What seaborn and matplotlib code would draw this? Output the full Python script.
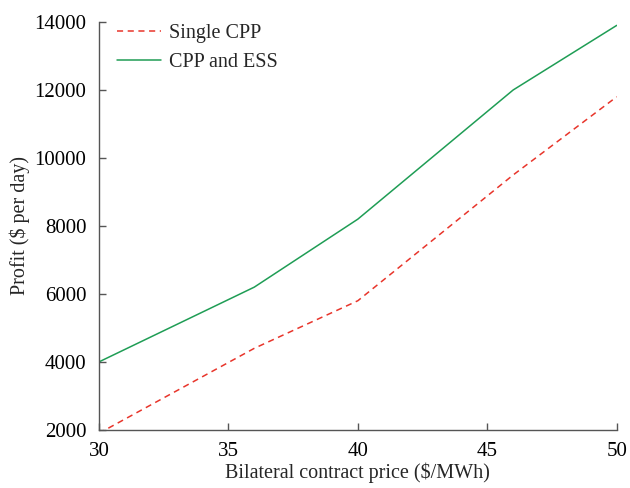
import matplotlib
matplotlib.use("Agg")
import matplotlib.pyplot as plt
import seaborn as sns
import pandas as pd

price = [30, 36, 40, 46, 50]
single_cpp = [1900, 4400, 5800, 9500, 11800]
cpp_ess = [4000, 6200, 8200, 12000, 13900]
xticks = [30, 35, 40, 45, 50]
yticks = [2000, 4000, 6000, 8000, 10000, 12000, 14000]

sns.set_style("ticks")
plt.rcParams['font.family'] = ['Liberation Serif', 'DejaVu Serif']

df = pd.concat([
    pd.DataFrame({"price": price, "profit": single_cpp, "series": "Single CPP"}),
    pd.DataFrame({"price": price, "profit": cpp_ess, "series": "CPP and ESS"}),
])

fig = plt.figure(figsize=(6.3, 4.88), dpi=100)
ax = fig.add_axes([0.157, 0.119, 0.822, 0.836])
sns.lineplot(data=df, x="price", y="profit", hue="series", style="series",
             palette={"Single CPP": "#e8352b", "CPP and ESS": "#1f9d55"},
             dashes={"Single CPP": (4, 3), "CPP and ESS": ""},
             linewidth=1.1, ax=ax)

ax.set_xlim(30, 50)
ax.set_ylim(2000, 14000)
ax.set_xticks(xticks)
ax.set_yticks(yticks)
ax.set_xlabel("Bilateral contract price (\\$/MWh)", fontsize=14.5, labelpad=1)
ax.set_ylabel("Profit (\\$ per day)", fontsize=14.5, labelpad=3)
ax.tick_params(direction="in", labelsize=15, color="#555555", length=5, width=1,
               pad=9, labelcolor="black")
for s in ["top", "right"]:
    ax.spines[s].set_visible(False)
for s in ["left", "bottom"]:
    ax.spines[s].set_color("#555555")
    ax.spines[s].set_linewidth(1)

leg = ax.legend(loc="upper left", frameon=False, fontsize=14.5,
                bbox_to_anchor=(0.0, 1.04), handlelength=2.2, handletextpad=0.4,
                labelspacing=0.5)
fig.savefig("out.png", dpi=100)
